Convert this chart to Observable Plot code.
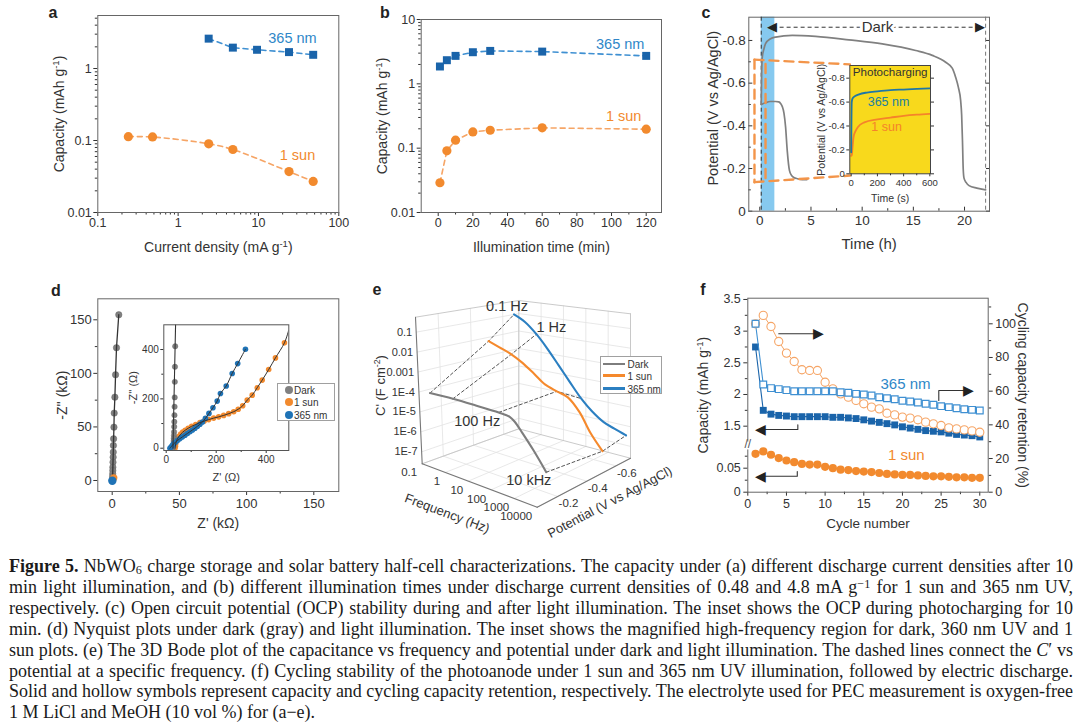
<!DOCTYPE html>
<html><head><meta charset="utf-8">
<script src="https://cdn.jsdelivr.net/npm/d3@7"></script>
<script src="https://cdn.jsdelivr.net/npm/@observablehq/plot@0.6"></script>
<style>
body{margin:0;background:#fff;}
#wrap{position:relative;width:1080px;height:724px;overflow:hidden;background:#fff;}
.cap{position:absolute;left:9px;top:556px;width:1064px;font-family:"Liberation Serif","Times New Roman",serif;font-size:18px;line-height:20.9px;color:#1a1a1a;}
.cap div{white-space:nowrap;text-align:left;}
.cap sub{font-size:68%;line-height:0;vertical-align:-0.18em;}
.cap sup{font-size:68%;line-height:0;vertical-align:0.45em;}
.lbl{position:absolute;font-family:"Liberation Sans",Arial,sans-serif;font-weight:bold;font-size:16px;color:#222;transform:translate(-50%,-50%);}
.legend{position:absolute;background:#fff;border:1px solid #a0a0a0;font-family:"Liberation Sans",Arial,sans-serif;font-size:10px;color:#333;box-sizing:border-box;}
.legend .row{position:absolute;white-space:nowrap;transform:translateY(-50%);}
.legend .sw{position:absolute;}
</style></head>
<body><div id="wrap"><div id="charts"></div>
<div class="lbl" style="left:53px;top:13px">a</div>
<div class="lbl" style="left:385px;top:13px">b</div>
<div class="lbl" style="left:706px;top:13px">c</div>
<div class="lbl" style="left:56px;top:291px">d</div>
<div class="lbl" style="left:377px;top:290px">e</div>
<div class="lbl" style="left:703px;top:290px">f</div>
<div id="legD" class="legend" style="left:277px;top:383px;width:58px;height:38px"></div>
<div id="legE" class="legend" style="left:600px;top:356px;width:62px;height:38px"></div>
<div class="cap">
<div><span><b>Figure 5.</b> NbWO<sub>6</sub> charge storage and solar battery half-cell characterizations. The capacity under (a) different discharge current densities after 10</span></div>
<div><span>min light illumination, and (b) different illumination times under discharge current densities of 0.48 and 4.8 mA g<sup>−1</sup> for 1 sun and 365 nm UV,</span></div>
<div><span>respectively. (c) Open circuit potential (OCP) stability during and after light illumination. The inset shows the OCP during photocharging for 10</span></div>
<div><span>min. (d) Nyquist plots under dark (gray) and light illumination. The inset shows the magnified high-frequency region for dark, 360 nm UV and 1</span></div>
<div><span>sun plots. (e) The 3D Bode plot of the capacitance vs frequency and potential under dark and light illumination. The dashed lines connect the <i>C</i>′ vs</span></div>
<div><span>potential at a specific frequency. (f) Cycling stability of the photoanode under 1 sun and 365 nm UV illumination, followed by electric discharge.</span></div>
<div><span>Solid and hollow symbols represent capacity and cycling capacity retention, respectively. The electrolyte used for PEC measurement is oxygen-free</span></div>
<div class="last"><span>1 M LiCl and MeOH (10 vol %) for (a−e).</span></div>
</div>
</div>
<script>
// ================= DATA =================
// (a) capacity vs current density
const aCurrent365 = [2.4, 4.8, 9.6, 24, 48];
const aCap365 = [2.6, 1.95, 1.82, 1.69, 1.55];
const aCurrentSun = [0.24, 0.48, 2.4, 4.8, 24, 48];
const aCapSun = [0.113, 0.112, 0.090, 0.075, 0.037, 0.027];
const aTicksX = [0.1, 1, 10, 100];
const aTicksY = [0.01, 0.1, 1];
// (b) capacity vs illumination time
const bTime = [1, 5, 10, 20, 30, 60, 120];
const bCap365 = [1.86, 2.33, 2.72, 3.1, 3.25, 3.17, 2.72];
const bCapSun = [0.029, 0.091, 0.133, 0.179, 0.19, 0.207, 0.197];
const bTicksX = [0, 20, 40, 60, 80, 100, 120];
const bTicksY = [0.01, 0.1, 1, 10];
// (c) OCP vs time
const cLongTime = [0.14,0.18,0.24,0.4,0.56,1.05,1.54,3.17,5.45,8.71,11.97,15.23,16.85,18.16,18.8,19.13,19.4,19.62,19.72,19.8,19.87,19.95,20.15,20.44,21.2,22.06];
const cLongPot = [-0.5,-0.64,-0.72,-0.76,-0.785,-0.808,-0.816,-0.824,-0.819,-0.803,-0.784,-0.753,-0.73,-0.698,-0.67,-0.628,-0.58,-0.519,-0.45,-0.33,-0.2,-0.155,-0.135,-0.12,-0.108,-0.1];
const cShortTime = [0.14,0.56,1.0,1.54,1.85,2.03,2.2,2.36,2.52,2.68,2.9,3.1,3.33,3.7,4.15,4.6];
const cShortPot = [-0.5,-0.508,-0.514,-0.514,-0.512,-0.505,-0.49,-0.46,-0.394,-0.284,-0.19,-0.168,-0.158,-0.152,-0.148,-0.148];
const cLightStart = 0.14, cLightEnd = 1.47, cEnd = 22.06;
const cTicksX = [0, 5, 10, 15, 20];
const cTicksY = [0, -0.2, -0.4, -0.6, -0.8];
const cInTime365 = [0, 2, 4, 10, 30, 60, 120, 200, 300, 400, 500, 600];
const cInPot365 = [-0.18, -0.45, -0.6, -0.63, -0.65, -0.665, -0.68, -0.69, -0.70, -0.705, -0.71, -0.715];
const cInTimeSun = [0, 5, 10, 15, 20, 30, 50, 100, 200, 300, 400, 500, 600];
const cInPotSun = [-0.15, -0.16, -0.22, -0.28, -0.32, -0.35, -0.39, -0.43, -0.455, -0.47, -0.485, -0.495, -0.502];
const cInTicksX = [0, 200, 400, 600];
// (d) Nyquist
const dDarkZr = [4.9,3.2,2.5,2.0,1.5,1.3,1.05,0.9,0.8,0.7,0.6,0.5,0.45,0.4,0.35,0.3];
const dDarkZi = [154.7,123.9,98.7,77.8,62.9,49.8,38.9,32.7,26.5,21.8,17.1,12.4,9.3,6.2,3.7,1.6];
const dSunMain = [1.2, 2.5];
const d365Main = [0.1, -0.3];
const dTicks = [0, 50, 100, 150];
const dInDarkZr = [36,35,34.5,34,33.5,33,32.5,32,31.5,31,30.5,30,29.5,29,28.5,28];
const dInDarkZi = [413,330,269,206,168,134,107,87,66,52,40,30,21,14,8,3];
const dInDarkFitZr = [27, 37.5];
const dInDarkFitZi = [0, 500];
const dInSunZr = [35,37,38,41,45,51,58,66,76,88,102,118,135,152,170,190,210,230,250,270,288,306,324,344,364,384,410,437,473];
const dInSunZi = [0,8,18,28,38,48,57,65,73,81,89,96,104,110,116,122,127,133,140,148,158,172,195,215,245,276,319,366,427];
const dInSunFitEnd = [490, 478];
const dIn365Zr = [15,20,25,30,38,46,55,65,75,85,95,105,115,125,135,145,157,171,187,204,217,240,264,286,317];
const dIn365Zi = [0,6,12,18,25,32,39,46,53,60,67,74,81,89,97,106,121,141,164,191,222,252,303,343,401];
const dInTicks = [0, 200, 400];
// (e) 3D Bode plot
const eDarkPotential = -0.13, eSunPotential = -0.51, e365Potential = -0.67;
const eDarkFreq = [0.1, 1, 10, 100, 300, 500, 1000, 3000, 10000];
const eDarkC = [6.3e-5, 7.4e-5, 7.8e-5, 7.9e-5, 7.1e-5, 4.8e-5, 1.9e-5, 4.0e-6, 6.0e-7];
const eFreq = [0.1, 0.3, 1, 3, 10, 30, 100, 300, 1000, 3000, 10000];
const eSunC = [6.2e-3, 3.7e-3, 2.1e-3, 1.0e-3, 3.5e-4, 1.3e-4, 7.9e-5, 5.4e-5, 1.3e-5, 1.6e-6, 2.9e-7];
const e365C = [1.0e-1, 4.7e-2, 1.2e-2, 2.5e-3, 3.7e-4, 6.6e-5, 1.1e-5, 3.2e-6, 1.2e-6, 7.4e-7, 4.7e-7];
const eConnFreqs = [0.1, 1, 100, 10000];
const eConnLabels = ["0.1 Hz", "1 Hz", "100 Hz", "10 kHz"];
const eFreqTicks = [0.1, 1, 10, 100, 1000, 10000];
const eFreqLabels = ["0.1", "1", "10", "100", "1000", "10000"];
const ePotTicks = [-0.2, -0.4, -0.6];
const eDecades = [1e-7, 1e-6, 1e-5, 1e-4, 1e-3, 1e-2, 1e-1];
const eDecadeLabels = ["1E-7", "1E-6", "1E-5", "1E-4", "0.001", "0.01", "0.1"];
// (f) cycling
const fCycle = [1,2,3,4,5,6,7,8,9,10,11,12,13,14,15,16,17,18,19,20,21,22,23,24,25,26,27,28,29,30];
const fCap365 = [2.75,1.75,1.69,1.67,1.66,1.65,1.65,1.65,1.65,1.65,1.64,1.64,1.63,1.62,1.60,1.58,1.56,1.54,1.52,1.49,1.47,1.45,1.43,1.42,1.41,1.39,1.37,1.36,1.35,1.33];
const fRet365 = [100,64.0,61.8,61.2,60.6,60.0,60.0,60.0,60.0,60.0,60.0,59.4,59.0,58.4,58.0,57.4,56.4,55.8,55.2,54.3,53.9,53.3,52.5,51.9,51.1,50.5,49.9,49.3,48.9,48.5];
const fCapSun = [0.080,0.085,0.078,0.071,0.066,0.0625,0.059,0.0576,0.0576,0.0528,0.050,0.047,0.046,0.044,0.043,0.042,0.040,0.038,0.037,0.036,0.036,0.035,0.034,0.033,0.033,0.032,0.031,0.031,0.030,0.030];
const fRetSun = [100,105,98.4,89.5,82.6,77.6,72.7,72.3,72.3,65.3,61.4,58.4,56.4,54.5,52.5,50.5,49.5,46.9,45.9,44.6,44.0,43.0,41.6,40.6,39.6,38.2,37.6,37.0,36.4,35.6];
const fTicksX = [0, 5, 10, 15, 20, 25, 30];
const fTicksUpper = [1.5, 2, 2.5, 3, 3.5];
const fTicksLower = [0, 0.05];
const fTicksRight = [0, 20, 40, 60, 80, 100];

// ================= HELPERS =================
const FONT = "'Liberation Sans', Arial, Helvetica, sans-serif";
const W = 1080, H = 540, INK = "#333";
const BLUE = "#1a64aa", BLUE_L = "#3f90d2", BLUE_T = "#2f87c8";
const ORANGE = "#f28a2e", ORANGE_L = "#f6a566", GRAY = "#808080";
function box(l, t, r, b) { return {marginLeft: l, marginTop: t, marginRight: W - r, marginBottom: H - b}; }
function draw(opts) {
  const svg = Plot.plot({width: W, height: H, ...opts,
    style: {background: "transparent", overflow: "visible", fontFamily: FONT, fontSize: "12px", color: INK}});
  svg.style.position = "absolute"; svg.style.left = "0px"; svg.style.top = "0px";
  svg.querySelectorAll("text").forEach(t => {
    const s = t.textContent;
    if (/\^-?\d/.test(s)) t.innerHTML = s.replace(/\^(-?\d+)/g, '<tspan baseline-shift="super" font-size="68%">$1</tspan>');
  });
  document.getElementById("charts").appendChild(svg);
  return svg;
}
function minorLog(lo, hi) {
  const out = [];
  for (let d = lo; d <= hi; d *= 10) for (let k = 2; k < 10; k++) { const v = +(k * d).toPrecision(3); if (v <= hi) out.push(v); }
  return out;
}
const fmtV = d => d === 0 ? "0" : d.toFixed(1);
const str = d => String(d);
const blank = () => "";
const zip = (xs, ys) => xs.map((x, i) => ({x, y: ys[i]}));
// axis helpers: labelled ticks and unlabelled (minor / mirrored) ticks
const axX = (t, size, pad, fs, fmt = str) => Plot.axisX(t, {tickSize: size, tickPadding: pad, fontSize: fs, tickFormat: fmt, label: null});
const axY = (t, size, pad, fs, fmt = str, anchor = "left") => Plot.axisY(t, {anchor, tickSize: size, tickPadding: pad, fontSize: fs, tickFormat: fmt, label: null});
const tkX = (t, size) => Plot.axisX(t, {tickSize: size, tickPadding: 0, tickFormat: blank, label: null});
const tkY = (t, size, anchor = "left") => Plot.axisY(t, {anchor, tickSize: size, tickPadding: 0, tickFormat: blank, label: null});
// axis titles: centred text, offset from a side of the frame
const titleB = (t, dy, fs) => Plot.text([t], {frameAnchor: "bottom", dy, fontSize: fs, textAnchor: "middle", lineAnchor: "middle"});
const titleL = (t, dx, fs, dy = 0) => Plot.text([t], {frameAnchor: "left", dx, dy, rotate: -90, fontSize: fs, textAnchor: "middle", lineAnchor: "middle"});
const titleR = (t, dx, fs) => Plot.text([t], {frameAnchor: "right", dx, rotate: 90, fontSize: fs, textAnchor: "middle", lineAnchor: "middle"});

// ================= (a) =================
{
  const s365 = zip(aCurrent365, aCap365), sSun = zip(aCurrentSun, aCapSun);
  draw({
    ...box(97.3, 15, 338.3, 212),
    x: {type: "log", domain: [0.1, 100]},
    y: {type: "log", domain: [0.01, 5.45]},
    marks: [
      axX(aTicksX, 4, 2, 12.5), tkX(minorLog(0.1, 100), 2.5),
      axY(aTicksY, 4, 2, 12.5), tkY(minorLog(0.01, 5.45), 2.5),
      Plot.frame({stroke: "#666"}),
      Plot.line(sSun, {x: "x", y: "y", stroke: ORANGE_L, strokeWidth: 1.6, strokeDasharray: "5,4", curve: "catmull-rom"}),
      Plot.line(s365, {x: "x", y: "y", stroke: BLUE_L, strokeWidth: 1.6, strokeDasharray: "5,4"}),
      Plot.dot(sSun, {x: "x", y: "y", r: 4.6, fill: ORANGE}),
      Plot.dot(s365, {x: "x", y: "y", symbol: "square", r: 4.5, fill: BLUE}),
      Plot.text(["365 nm"], {x: 26.5, y: 2.61, fill: BLUE_T, fontSize: 14.5}),
      Plot.text(["1 sun"], {x: 30.6, y: 0.062, fill: ORANGE, fontSize: 14.5}),
      titleB("Current density (mA g^-1)", 35, 14),
      titleL("Capacity (mAh g^-1)", -38, 14)
    ]
  });
}
// ================= (b) =================
{
  const s365 = zip(bTime, bCap365), sSun = zip(bTime, bCapSun);
  draw({
    ...box(420.7, 19, 661, 212),
    x: {domain: [-9.81, 128.83]},
    y: {type: "log", domain: [0.01, 10]},
    marks: [
      axX(bTicksX, 4, 2, 12.5), tkX([10, 30, 50, 70, 90, 110], 2.5),
      axY(bTicksY, 4, 2, 12.5), tkY(minorLog(0.01, 10), 2.5),
      Plot.frame({stroke: "#666"}),
      Plot.line(sSun, {x: "x", y: "y", stroke: ORANGE_L, strokeWidth: 1.6, strokeDasharray: "5,4"}),
      Plot.line(s365, {x: "x", y: "y", stroke: BLUE_L, strokeWidth: 1.6, strokeDasharray: "5,4"}),
      Plot.dot(sSun, {x: "x", y: "y", r: 4.6, fill: ORANGE}),
      Plot.dot(s365, {x: "x", y: "y", symbol: "square", r: 4.5, fill: BLUE}),
      Plot.text(["365 nm"], {x: 105, y: 4.18, fill: BLUE_T, fontSize: 14.5}),
      Plot.text(["1 sun"], {x: 107, y: 0.31, fill: ORANGE, fontSize: 14.5}),
      titleB("Illumination time (min)", 35, 14),
      titleL("Capacity (mAh g^-1)", -38.5, 14)
    ]
  });
}
// ================= (c) =================
{
  const sLong = zip(cLongTime, cLongPot), sShort = zip(cShortTime, cShortPot);
  const orange = {stroke: "#f3954a", strokeWidth: 2.4, strokeDasharray: "9,6"};
  draw({
    ...box(748.3, 16.7, 989, 210.7),
    x: {domain: [-1.075, 22.44]},
    y: {domain: [0, -0.909]},
    marks: [
      Plot.rect([0], {x1: cLightStart, x2: cLightEnd, y1: 0, y2: -0.909, fill: "#86c9ef"}),
      axX(cTicksX, 0, 4, 13.5), tkX(cTicksX, -4), tkX([2.5, 7.5, 12.5, 17.5], -2.5),
      axY(cTicksY, 0, 3, 13.5, fmtV), tkY(cTicksY, -4), tkY([-0.1, -0.3, -0.5, -0.7], -2.5),
      tkY(cTicksY, -4, "right"),
      Plot.frame({stroke: "#666"}),
      Plot.ruleX([cLightStart], {stroke: "#333", strokeDasharray: "4,3"}),
      Plot.ruleX([cEnd], {stroke: "#777", strokeDasharray: "4,3"}),
      Plot.line(sLong, {x: "x", y: "y", stroke: GRAY, strokeWidth: 1.7, curve: "monotone-x"}),
      Plot.line(sShort, {x: "x", y: "y", stroke: GRAY, strokeWidth: 1.7, curve: "monotone-x"}),
      Plot.line([[-0.52, -0.71], [8.8, -0.688]], orange),
      Plot.line([[-0.52, -0.71], [-0.52, -0.136]], orange),
      Plot.line([[-0.52, -0.136], [8.8, -0.167]], orange),
      Plot.line([[0.56, -0.69], [0.56, -0.136]], orange),
      Plot.ruleY([-0.862], {x1: 1.3, x2: 21.5, stroke: "#333", strokeDasharray: "4,3"}),
      Plot.text(["◀"], {x: 0.75, y: -0.862, textAnchor: "start", fontSize: 13, fill: "#222"}),
      Plot.text(["▶"], {x: 22.0, y: -0.862, textAnchor: "end", fontSize: 13, fill: "#222"}),
      Plot.text(["Dark"], {x: 11.5, y: -0.862, fontSize: 15, fill: "#333", stroke: "white", strokeWidth: 6, paintOrder: "stroke"}),
      titleB("Time (h)", 32.5, 15),
      titleL("Potential (V vs Ag/AgCl)", -35.3, 14.5, -6)
    ]
  });
  // inset
  const i365 = zip(cInTime365, cInPot365), iSun = zip(cInTimeSun, cInPotSun);
  draw({
    ...box(849.3, 65, 930, 173.3),
    x: {domain: [-10.7, 605]},
    y: {domain: [0, -0.906]},
    marks: [
      Plot.frame({fill: "#f8d91c"}),
      axX(cInTicksX, 3, 2, 9.5), tkX([100, 300, 500], 2),
      axY(cTicksY, 3, 2, 9.5, fmtV), tkY(cTicksY, 3, "right"),
      Plot.line(iSun, {x: "x", y: "y", stroke: "#f5832a", strokeWidth: 1.8, curve: "monotone-x"}),
      Plot.line(i365, {x: "x", y: "y", stroke: "#1f77a6", strokeWidth: 1.8, curve: "monotone-x"}),
      Plot.frame({stroke: "#444"}),
      Plot.text(["Photocharging"], {frameAnchor: "top", dy: 7, fontSize: 11.6, fill: "#333", textAnchor: "middle", lineAnchor: "middle"}),
      Plot.text(["365 nm"], {x: 285, y: -0.6, fontSize: 12.5, fill: "#22809e"}),
      Plot.text(["1 sun"], {x: 270, y: -0.39, fontSize: 12.5, fill: "#f5832a"}),
      titleB("Time (s)", 25, 10.5),
      titleL("Potential (V vs Ag/AgCl)", -28.6, 10.5)
    ]
  });
}
// ================= (d) =================
{
  const dark = zip(dDarkZr, dDarkZi);
  draw({
    ...box(97.3, 298.3, 338.3, 491),
    x: {domain: [-10.71, 168.6]},
    y: {domain: [-10.27, 169.6]},
    marks: [
      axX(dTicks, 4, 3, 13), tkX([25, 75, 125], 2.5),
      axY(dTicks, 4, 2, 13), tkY([25, 75, 125], 2.5),
      Plot.frame({stroke: "#666"}),
      Plot.dot(dark, {x: "x", y: "y", r: 3.2, fill: GRAY, stroke: "#666", strokeWidth: 0.5}),
      Plot.line(dark, {x: "x", y: "y", stroke: "#333", strokeWidth: 1.3}),
      Plot.dot([dSunMain], {x: d => d[0], y: d => d[1], r: 3.6, fill: ORANGE}),
      Plot.dot([d365Main], {x: d => d[0], y: d => d[1], r: 4.2, fill: "#1f73b6"}),
      titleB("Z' (kΩ)", 32, 14),
      titleL("-Z'' (kΩ)", -35.3, 14)
    ]
  });
  const iDark = zip(dInDarkZr, dInDarkZi), iSun = zip(dInSunZr, dInSunZi), i365 = zip(dIn365Zr, dIn365Zi);
  const sunFit = iSun.concat([{x: dInSunFitEnd[0], y: dInSunFitEnd[1]}]);
  draw({
    ...box(163.3, 324.3, 288.3, 450),
    x: {domain: [-9.6, 490.4]},
    y: {domain: [-9.3, 500.2]},
    marks: [
      Plot.frame({fill: "white"}),
      axX(dInTicks, 3, 2, 10), tkX([100, 300], 2),
      axY(dInTicks, 3, 2, 10), tkY([100, 300], 2),
      Plot.dot(iSun, {x: "x", y: "y", r: 2.8, fill: ORANGE}),
      Plot.dot(iDark, {x: "x", y: "y", r: 2.7, fill: GRAY, stroke: "#666", strokeWidth: 0.4}),
      Plot.dot(i365, {x: "x", y: "y", r: 2.8, fill: "#1f73b6"}),
      Plot.line(zip(dInDarkFitZr, dInDarkFitZi), {x: "x", y: "y", stroke: "#333", strokeWidth: 1.1, clip: true}),
      Plot.line(sunFit, {x: "x", y: "y", stroke: "#333", strokeWidth: 1, curve: "catmull-rom", clip: true}),
      Plot.line(i365, {x: "x", y: "y", stroke: "#333", strokeWidth: 1, curve: "catmull-rom"}),
      Plot.frame({stroke: "#555"}),
      titleB("Z' (Ω)", 26.7, 11),
      titleL("-Z'' (Ω)", -30, 11)
    ]
  });
}
// ================= (e) 3D Bode =================
{
  // projection of the 3D box (u: log frequency, v: potential, w: log C') onto the page
  const corner = {
    "000": [421.7, 463.3], "100": [536.7, 506.7], "110": [630, 457.7], "010": [518.3, 428.3],
    "001": [415, 316.7], "101": [530, 347], "111": [630, 313.3], "011": [518.3, 300]
  };
  const lerp = (a, b, t) => [a[0] + (b[0] - a[0]) * t, a[1] + (b[1] - a[1]) * t];
  const P = (u, v, w) => {
    const bot = lerp(lerp(corner["000"], corner["100"], u), lerp(corner["010"], corner["110"], u), v);
    const top = lerp(lerp(corner["001"], corner["101"], u), lerp(corner["011"], corner["111"], u), v);
    return lerp(bot, top, w);
  };
  const U = f => (Math.log10(f) + 1) / 5;
  const V = p => (-p - 0.06) / 0.64;
  const Wc = c => (Math.log10(c) + 7.6) / 7.35;
  const pt = (u, v, w, extra) => { const [x, y] = P(u, v, w); return {x, y, ...extra}; };

  const grid = [], edges = [], axes = [];
  const seg = (arr, a, b) => { const g = arr.length; arr.push(pt(...a, {g}), pt(...b, {g})); };
  const uT = eFreqTicks.map(U), vT = ePotTicks.map(V), wT = eDecades.map(Wc);
  wT.forEach(w => { seg(grid, [0, 0, w], [0, 1, w]); seg(grid, [0, 1, w], [1, 1, w]); });
  vT.forEach(v => { seg(grid, [0, v, 0], [0, v, 1]); seg(grid, [0, v, 0], [1, v, 0]); });
  uT.forEach(u => { seg(grid, [u, 1, 0], [u, 1, 1]); seg(grid, [u, 0, 0], [u, 1, 0]); });
  seg(edges, [0, 0, 1], [0, 1, 1]); seg(edges, [0, 1, 1], [1, 1, 1]); seg(edges, [0, 1, 0], [0, 1, 1]);
  seg(edges, [1, 1, 0], [1, 1, 1]); seg(edges, [0, 0, 0], [0, 1, 0]); seg(edges, [0, 1, 0], [1, 1, 0]);
  seg(axes, [0, 0, 0], [0, 0, 1]); seg(axes, [0, 0, 0], [1, 0, 0]); seg(axes, [1, 0, 0], [1, 1, 0]);

  const series = [
    {name: "Dark", pot: eDarkPotential, freq: eDarkFreq, c: eDarkC, color: "#7d7d7d"},
    {name: "1 sun", pot: eSunPotential, freq: eFreq, c: eSunC, color: "#f5892c"},
    {name: "365 nm", pot: e365Potential, freq: eFreq, c: e365C, color: "#2b7fc1"}
  ];
  const curve = s => s.freq.map((f, i) => pt(U(f), V(s.pot), Wc(s.c[i])));
  const at = (s, f) => pt(U(f), V(s.pot), Wc(s.c[s.freq.indexOf(f)]));
  const conn = eConnFreqs.flatMap(f => series.map(s => ({...at(s, f), f})));
  const lab = (i, s, dx, dy) => Plot.text([{...at(series[s], eConnFreqs[i]), t: eConnLabels[i]}], {x: "x", y: "y", text: "t", dx, dy, fontSize: 14.5, fill: "#333"});
  const cTicks = eDecades.map((d, i) => pt(0, 0, Wc(d), {t: eDecadeLabels[i]}));
  const fTicks = eFreqTicks.map((f, i) => pt(U(f), 0, 0, {t: eFreqLabels[i]}));
  const pTicks = ePotTicks.map(p => pt(1, V(p), 0, {t: p.toFixed(1)}));
  const mid = (u, v, w) => [pt(u, v, w, {})];

  draw({
    marginLeft: 0, marginRight: 0, marginTop: 0, marginBottom: 0,
    x: {type: "identity", axis: null}, y: {type: "identity", axis: null},
    marks: [
      Plot.line(grid, {x: "x", y: "y", z: "g", stroke: "#e2e2e2", strokeWidth: 0.8}),
      Plot.line(edges, {x: "x", y: "y", z: "g", stroke: "#c4c4c4", strokeWidth: 0.9}),
      Plot.line(axes, {x: "x", y: "y", z: "g", stroke: "#777", strokeWidth: 1.1}),
      Plot.line(conn, {x: "x", y: "y", z: "f", stroke: "#555", strokeWidth: 1, strokeDasharray: "3,2.5"}),
      ...series.map(s => Plot.line(curve(s), {x: "x", y: "y", stroke: s.color, strokeWidth: 2.1, curve: "catmull-rom"})),
      lab(0, 2, -7, -8), lab(1, 2, 15, -6.5), lab(2, 0, -21.5, 8.7), lab(3, 0, -17.5, 8.4),
      Plot.text(cTicks, {x: "x", y: "y", text: "t", textAnchor: "end", dx: -4, fontSize: 11}),
      Plot.text(fTicks, {x: "x", y: "y", text: "t", textAnchor: "end", dx: -5, dy: 9, fontSize: 11.5}),
      Plot.text(pTicks, {x: "x", y: "y", text: "t", textAnchor: "start", dx: 1, dy: 7, fontSize: 11.5}),
      Plot.text(mid(0, 0, 0.5), {x: "x", y: "y", text: () => "C' (F cm^-2)", dx: -38, dy: -5, rotate: -90, fontSize: 13}),
      Plot.text(mid(0.5, 0, 0), {x: "x", y: "y", text: () => "Frequency (Hz)", dx: -32.5, dy: 28, rotate: 20.7, fontSize: 13}),
      Plot.text(mid(1, 0.5, 0), {x: "x", y: "y", text: () => "Potential (V vs Ag/AgCl)", dx: 26, dy: 19.5, rotate: -27.7, fontSize: 13})
    ]
  });
}
// ================= (f) =================
{
  const rows = fCycle.map((c, i) => ({c, cap365: fCap365[i], ret365: fRet365[i], capSun: fCapSun[i], retSun: fRetSun[i]}));
  const xDom = [0, 31.09];
  draw({
    ...box(747.3, 297.7, 987.7, 491.7),
    x: {domain: xDom}, y: {domain: [0, 115.2]},
    marks: [
      axX(fTicksX, 4, 3, 12.5), tkX([2.5, 7.5, 12.5, 17.5, 22.5, 27.5], 2.5),
      axY(fTicksRight, 4, 3, 12.5, str, "right"), tkY([10, 30, 50, 70, 90, 110], 2.5, "right"),
      Plot.frame({stroke: "#666"}),
      titleB("Cycle number", 31.6, 13.5),
      titleL("Capacity (mAh g^-1)", -44, 14),
      titleR("Cycling capacity retention (%)", 34, 14)
    ]
  });
  draw({
    ...box(747.3, 297.7, 987.7, 445),
    x: {domain: xDom, axis: null}, y: {domain: [1.195, 3.52]},
    marks: [
      Plot.ruleX([0], {y1: 1.195, y2: 1.25, stroke: "white", strokeWidth: 3}),
      axY(fTicksUpper, 4, 3, 12.5), tkY([1.75, 2.25, 2.75, 3.25], 2.5),
      Plot.line(rows, {x: "c", y: "cap365", stroke: BLUE, strokeWidth: 1.1}),
      Plot.dot(rows, {x: "c", y: "cap365", symbol: "square", r: 3.9, fill: BLUE})
    ]
  });
  draw({
    ...box(747.3, 445, 987.7, 491.7),
    x: {domain: xDom, axis: null}, y: {domain: [0, 0.0973]},
    marks: [
      Plot.ruleX([0], {y1: 0.088, y2: 0.0973, stroke: "white", strokeWidth: 3}),
      Plot.text(["//"], {x: 0, y: 0.0973, fontSize: 12, fill: "#555", dy: -1}),
      axY(fTicksLower, 4, 3, 12.5), tkY([0.025, 0.075], 2.5),
      Plot.line(rows, {x: "c", y: "capSun", stroke: ORANGE, strokeWidth: 1}),
      Plot.dot(rows, {x: "c", y: "capSun", r: 4.1, fill: ORANGE})
    ]
  });
  const ink = {stroke: "#333", strokeWidth: 1.1};
  draw({
    ...box(747.3, 297.7, 987.7, 491.7),
    x: {domain: xDom, axis: null}, y: {domain: [0, 115.2], axis: null},
    marks: [
      Plot.line(rows, {x: "c", y: "retSun", stroke: ORANGE_L, strokeWidth: 1}),
      Plot.line(rows, {x: "c", y: "ret365", stroke: BLUE_L, strokeWidth: 1.1}),
      Plot.dot(rows, {x: "c", y: "retSun", r: 4.1, fill: "white", stroke: ORANGE_L, strokeWidth: 1.1}),
      Plot.dot(rows, {x: "c", y: "ret365", symbol: "square", r: 3.8, fill: "white", stroke: BLUE_L, strokeWidth: 1.2}),
      Plot.line([[4.0, 94.1], [9.3, 94.1]], ink),
      Plot.text(["▶"], {x: 9.9, y: 94.1, textAnchor: "end", fontSize: 14, fill: "#222"}),
      Plot.line([[24.7, 54.5], [24.7, 60.4], [28.7, 60.4]], ink),
      Plot.text(["▶"], {x: 29.3, y: 60.4, textAnchor: "end", fontSize: 14, fill: "#222"}),
      Plot.line([[6.47, 40.0], [6.47, 37.2], [1.6, 37.2]], ink),
      Plot.text(["◀"], {x: 0.95, y: 37.2, textAnchor: "start", fontSize: 14, fill: "#222"}),
      Plot.line([[6.4, 12.3], [6.4, 9.5], [1.6, 9.5]], ink),
      Plot.text(["◀"], {x: 0.95, y: 9.5, textAnchor: "start", fontSize: 14, fill: "#222"}),
      Plot.text(["365 nm"], {x: 20.4, y: 64.4, fill: BLUE_T, fontSize: 15}),
      Plot.text(["1 sun"], {x: 20.5, y: 21.8, fill: ORANGE, fontSize: 15})
    ]
  });
}
// ================= legends =================
function legend(id, names, colors, kind, rowsY, swX, txtX) {
  const el = document.getElementById(id);
  names.forEach((n, i) => {
    const row = document.createElement("div");
    row.className = "row"; row.style.top = rowsY[i] + "px"; row.style.left = txtX + "px"; row.textContent = n;
    el.appendChild(row);
    const sw = document.createElement("div"); sw.className = "sw";
    if (kind === "dot") Object.assign(sw.style, {left: (swX - 4) + "px", top: (rowsY[i] - 4) + "px", width: "8px", height: "8px", borderRadius: "50%", background: colors[i]});
    else Object.assign(sw.style, {left: swX[0] + "px", top: (rowsY[i] - 1.2) + "px", width: (swX[1] - swX[0]) + "px", height: "2.4px", background: colors[i]});
    el.appendChild(sw);
  });
}
legend("legD", ["Dark", "1 sun", "365 nm"], [GRAY, ORANGE, "#1f73b6"], "dot", [6.2, 18, 31], 11, 16);
legend("legE", ["Dark", "1 sun", "365 nm"], ["#7d7d7d", "#f5892c", "#2b7fc1"], "line", [6.8, 18.6, 31.6], [1.5, 24], 26.5);
// ================= caption: stretch each line (except the last) to the full width =================
document.querySelectorAll(".cap div").forEach(div => {
  if (div.classList.contains("last")) return;
  const span = div.querySelector("span");
  const w = span.getBoundingClientRect().width;
  const spaces = (span.textContent.match(/ /g) || []).length;
  div.style.wordSpacing = ((1064 - w) / spaces) + "px";
});
</script>
</body></html>
